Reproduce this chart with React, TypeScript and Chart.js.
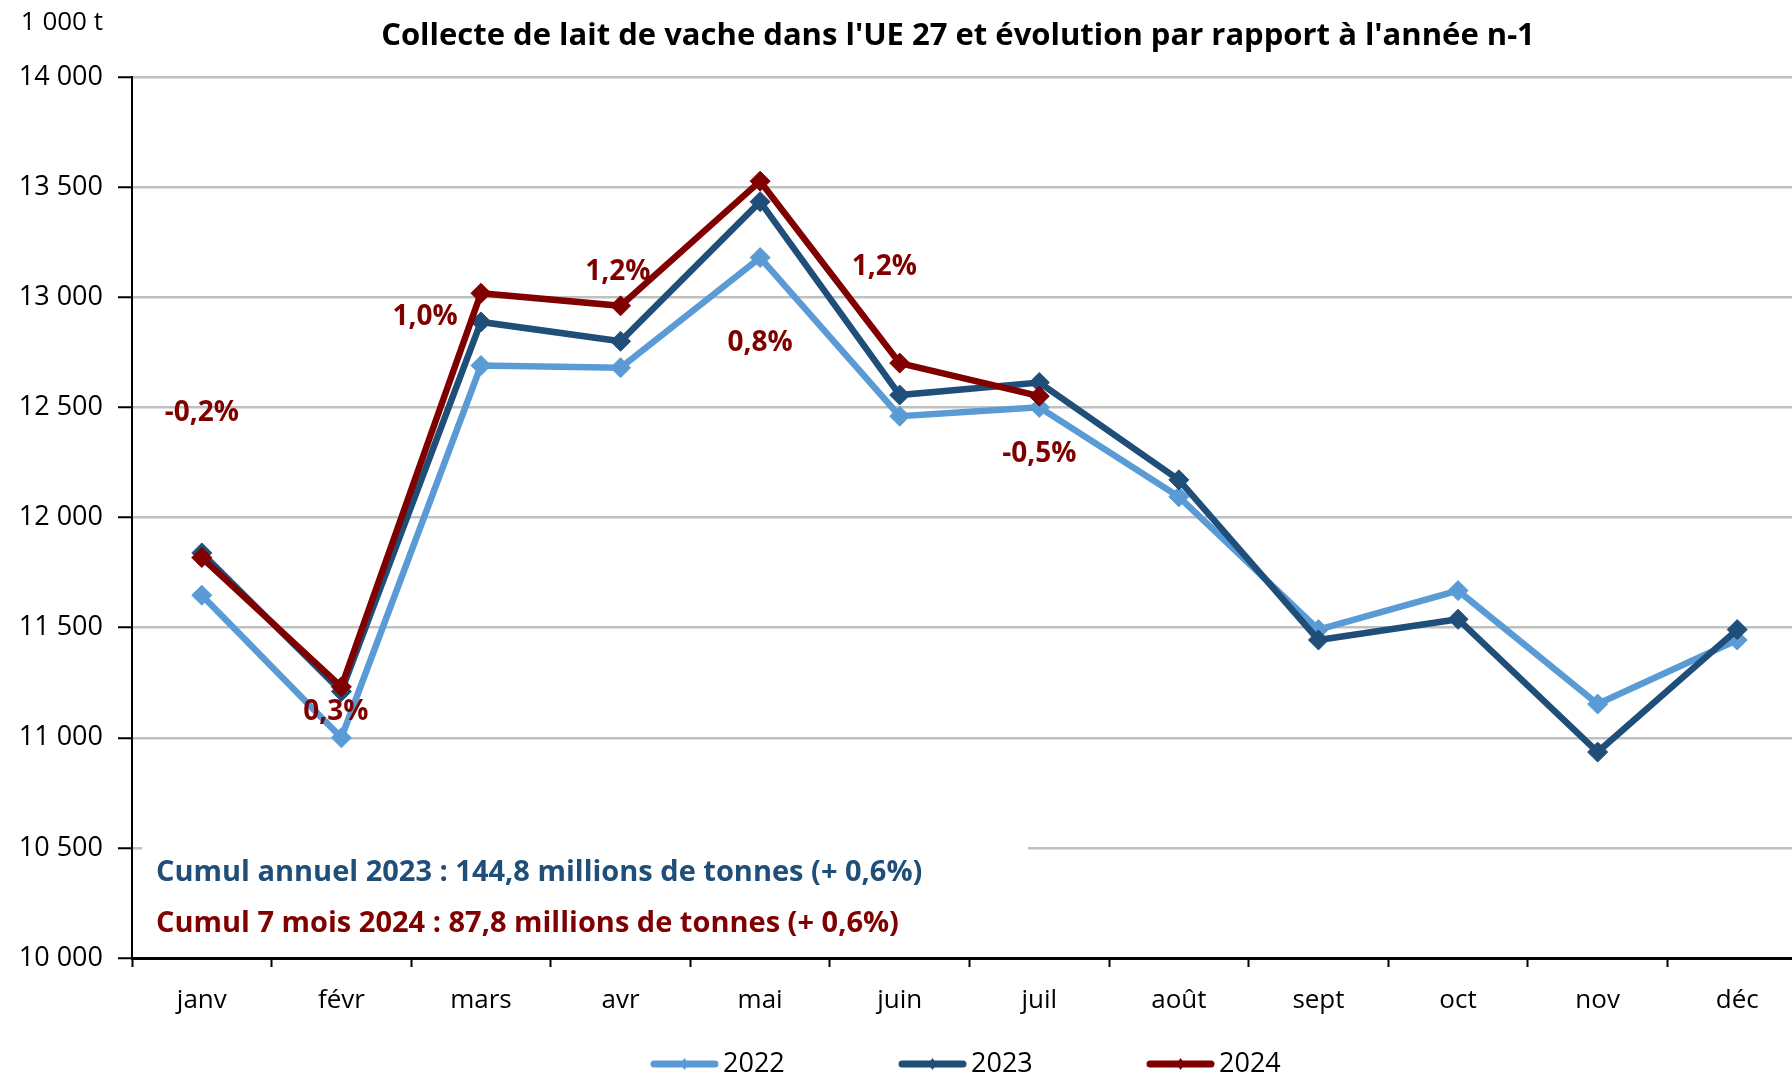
import React, { useEffect, useRef } from "react";
import { Chart, registerables } from "chart.js";

Chart.register(...registerables);

const FONT = "'Open Sans', 'DejaVu Sans', sans-serif";

const months = ["janv", "févr", "mars", "avr", "mai", "juin", "juil", "août", "sept", "oct", "nov", "déc"];
const seriesNames = ["2022", "2023", "2024"];
const values2022 = [11647, 11000, 12690, 12680, 13180, 12460, 12500, 12094, 11491, 11668, 11153, 11444];
const values2023 = [11839, 11210, 12888, 12800, 13434, 12556, 12613, 12171, 11444, 11538, 10935, 11491];
const values2024 = [11818, 11231, 13018, 12961, 13527, 12701, 12551, null, null, null, null, null];
const seriesColors = ["#5B9BD5", "#1F4E79", "#800000"];

const yMin = 10000;
const yMax = 14000;
const yStep = 500;

const pctLabels = ["-0,2%", "0,3%", "1,0%", "1,2%", "0,8%", "1,2%", "-0,5%"];
const pctAtMonth = [0, 0.96, 1.6, 2.98, 4.0, 4.89, 6.0];
const pctAtValue = [12473, 11118, 12909, 13114, 12791, 13136, 12286];

const titleText = "Collecte de lait de vache dans l'UE 27 et évolution par rapport à l'année n-1";
const unitText = "1 000 t";
const cumulTexts = [
  "Cumul annuel 2023 : 144,8 millions de tonnes (+ 0,6%)",
  "Cumul 7 mois 2024 : 87,8 millions de tonnes (+ 0,6%)",
];
const cumulColors = ["#1F4E79", "#800000"];

function formatThousands(v: number): string {
  const th = Math.floor(v / 1000);
  const rest = String(v % 1000).padStart(3, "0");
  return th > 0 ? `${th} ${rest}` : String(v);
}

const overlayPlugin = {
  id: "overlayTexts",
  beforeDatasetsDraw(chart: any) {
    const ctx = chart.ctx as CanvasRenderingContext2D;
    const area = chart.chartArea;
    ctx.save();
    ctx.fillStyle = "#ffffff";
    ctx.fillRect(area.left + 10, 838, 886, area.bottom - 838 - 2);
    ctx.font = `bold 29px ${FONT}`;
    ctx.textAlign = "left";
    ctx.textBaseline = "middle";
    const ys = [873, 924];
    cumulTexts.forEach((t, i) => {
      ctx.fillStyle = cumulColors[i];
      ctx.fillText(t, 156, ys[i]);
    });
    ctx.restore();
  },
  afterDatasetsDraw(chart: any) {
    const ctx = chart.ctx as CanvasRenderingContext2D;
    const xs = chart.scales.x;
    const ysc = chart.scales.y;
    ctx.save();
    ctx.font = `bold 28px ${FONT}`;
    ctx.fillStyle = "#800000";
    ctx.textAlign = "center";
    ctx.textBaseline = "middle";
    pctLabels.forEach((t, i) => {
      ctx.fillText(t, xs.getPixelForValue(pctAtMonth[i]), ysc.getPixelForValue(pctAtValue[i]));
    });
    ctx.restore();
  },
  afterDraw(chart: any) {
    const ctx = chart.ctx as CanvasRenderingContext2D;
    ctx.save();
    // title
    ctx.fillStyle = "#000";
    ctx.font = `bold 31px ${FONT}`;
    ctx.textAlign = "center";
    ctx.textBaseline = "middle";
    ctx.fillText(titleText, 958, 36);
    // unit
    ctx.font = `26px ${FONT}`;
    ctx.textAlign = "right";
    ctx.fillText(unitText, 103, 23);
    // legend
    const legendY = 1064;
    const start = 651;
    const gap = 248;
    const lineLen = 67;
    seriesNames.forEach((name, i) => {
      const x0 = start + i * gap;
      ctx.strokeStyle = seriesColors[i];
      ctx.lineWidth = 7;
      ctx.lineCap = "round";
      ctx.beginPath();
      ctx.moveTo(x0 + 3, legendY);
      ctx.lineTo(x0 + lineLen - 3, legendY);
      ctx.stroke();
      ctx.fillStyle = seriesColors[i];
      const cx = x0 + lineLen / 2;
      const r = 6;
      ctx.beginPath();
      ctx.moveTo(cx, legendY - r);
      ctx.lineTo(cx + r * 0.7, legendY);
      ctx.lineTo(cx, legendY + r);
      ctx.lineTo(cx - r * 0.7, legendY);
      ctx.closePath();
      ctx.fill();
      ctx.fillStyle = "#000";
      ctx.font = `27px ${FONT}`;
      ctx.textAlign = "left";
      ctx.textBaseline = "middle";
      ctx.fillText(name, x0 + lineLen + 5, legendY);
    });
    ctx.restore();
  },
};

export default function App() {
  const canvasRef = useRef<HTMLCanvasElement | null>(null);

  useEffect(() => {
    const canvas = canvasRef.current;
    if (!canvas) return;
    const mk = (label: string, data: (number | null)[], color: string, order: number) => ({
      label,
      data,
      borderColor: color,
      backgroundColor: color,
      borderWidth: 6.5,
      pointStyle: "rectRot" as const,
      pointRadius: 10,
      pointBorderWidth: 1,
      pointBorderColor: color,
      pointBackgroundColor: color,
      tension: 0,
      spanGaps: false,
      order,
    });
    const chart = new Chart(canvas, {
      type: "line",
      data: {
        labels: months,
        datasets: [
          mk(seriesNames[0], values2022, seriesColors[0], 3),
          mk(seriesNames[1], values2023, seriesColors[1], 2),
          mk(seriesNames[2], values2024, seriesColors[2], 1),
        ],
      },
      options: {
        responsive: false,
        animation: false,
        devicePixelRatio: 1,
        layout: { padding: { top: 77, left: 0, right: 93, bottom: 0 } },
        plugins: {
          legend: { display: false },
          title: { display: false },
          tooltip: { enabled: false },
        },
        scales: {
          x: {
            type: "category",
            offset: true,
            grid: {
              offset: true,
              drawOnChartArea: false,
              drawTicks: true,
              tickLength: 9,
              tickColor: "#000",
              tickWidth: 2,
            },
            border: { color: "#000", width: 3 },
            ticks: {
              color: "#000",
              font: { family: FONT, size: 26 },
              padding: 18,
              autoSkip: false,
              maxRotation: 0,
            },
            afterFit: (s: any) => {
              s.height = 118;
            },
          },
          y: {
            min: yMin,
            max: yMax,
            ticks: {
              stepSize: yStep,
              color: "#000",
              font: { family: FONT, size: 27 },
              padding: 15,
              callback: (v: any) => formatThousands(Number(v)),
            },
            grid: {
              color: "#C0C0C0",
              lineWidth: 2.5,
              tickLength: 14,
              tickColor: "#000",
              tickWidth: 2,
            },
            border: { color: "#000", width: 2 },
            afterFit: (s: any) => {
              s.width = 132;
            },
          },
        },
      },
      plugins: [overlayPlugin],
    } as any);
    return () => chart.destroy();
  }, []);

  return (
    <div style={{ position: "fixed", left: 0, top: 0, width: 1792, height: 1076, overflow: "hidden", background: "#fff" }}>
      <canvas ref={canvasRef} width={1900} height={1076} style={{ display: "block", width: 1900, height: 1076 }} />
    </div>
  );
}
